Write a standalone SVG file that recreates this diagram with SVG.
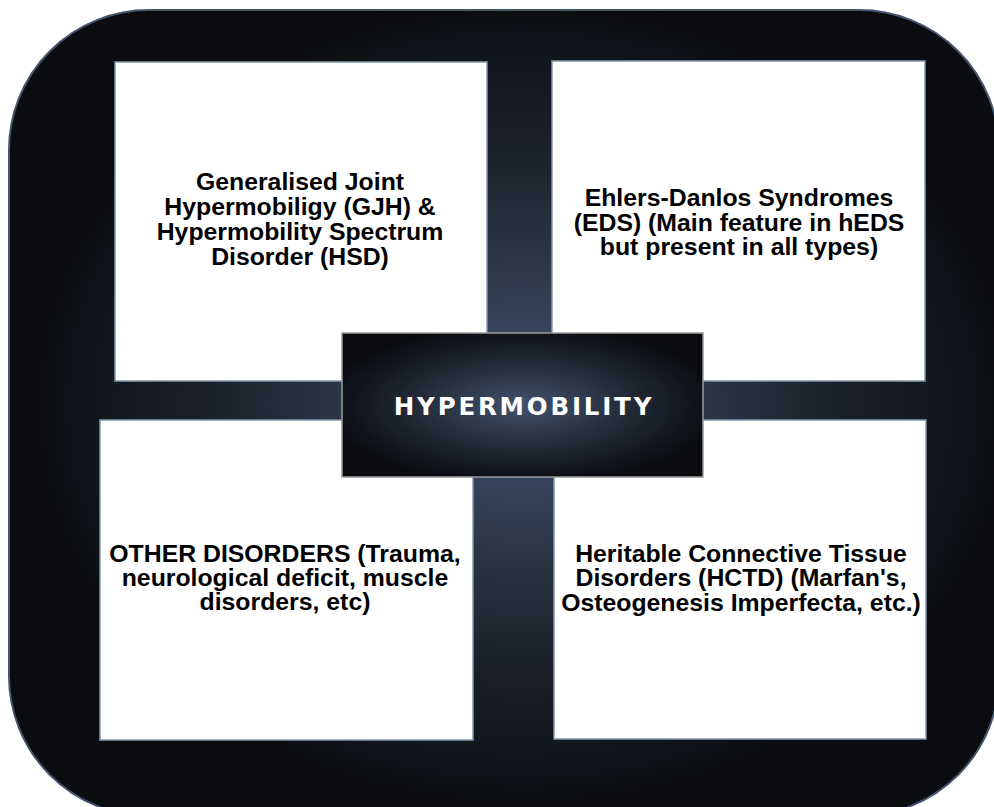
<svg xmlns="http://www.w3.org/2000/svg" width="994" height="807" viewBox="0 0 994 807">
<defs>
<radialGradient id="bg" gradientUnits="userSpaceOnUse" cx="0" cy="0" r="500" gradientTransform="translate(522 405) scale(1 0.82)">
<stop offset="0" stop-color="#44546e"/>
<stop offset="0.2" stop-color="#36435a"/>
<stop offset="0.38" stop-color="#2a3444"/>
<stop offset="0.65" stop-color="#1a1f28"/>
<stop offset="0.86" stop-color="#11151c"/>
<stop offset="0.96" stop-color="#0b0d11"/>
<stop offset="1" stop-color="#0a0c10"/>
</radialGradient>
<radialGradient id="cg" cx="0.5" cy="0.5" r="0.55">
<stop offset="0" stop-color="#42526c"/>
<stop offset="0.5" stop-color="#252d3b"/>
<stop offset="0.82" stop-color="#13171e"/>
<stop offset="1" stop-color="#0a0c10"/>
</radialGradient>
<style>
.box{fill:#ffffff;stroke:#8496ad;stroke-width:1.5}
.lbl{font-family:"Liberation Sans",Arial,sans-serif;font-weight:bold;font-size:24.8px;fill:#000000;text-anchor:middle}
.ctr{font-family:"DejaVu Sans",Verdana,sans-serif;font-weight:bold;font-size:24.5px;fill:#ffffff;text-anchor:middle;letter-spacing:2.8px}
</style>
</defs>
<rect id="frame" x="9" y="10" width="990" height="806" rx="140" ry="140" fill="url(#bg)" stroke="#46566c" stroke-width="2"/>
<g id="connectors"></g>
<g id="node-gjh">
<rect class="box" x="115" y="62" width="372" height="319"/>
<text class="lbl" x="300" y="190">Generalised Joint</text>
<text class="lbl" x="300" y="215">Hypermobiligy (GJH) &amp;</text>
<text class="lbl" x="300" y="240">Hypermobility Spectrum</text>
<text class="lbl" x="300" y="265">Disorder (HSD)</text>
</g>
<g id="node-eds">
<rect class="box" x="552" y="61" width="373" height="320"/>
<text class="lbl" x="739" y="206">Ehlers-Danlos Syndromes</text>
<text class="lbl" x="739" y="231">(EDS) (Main feature in hEDS</text>
<text class="lbl" x="739" y="255">but present in all types)</text>
</g>
<g id="node-other">
<rect class="box" x="100" y="420" width="373" height="320"/>
<text class="lbl" x="285" y="562">OTHER DISORDERS (Trauma,</text>
<text class="lbl" x="285" y="586">neurological deficit, muscle</text>
<text class="lbl" x="285" y="610">disorders, etc)</text>
</g>
<g id="node-hctd">
<rect class="box" x="554" y="420" width="372" height="319"/>
<text class="lbl" x="741" y="562">Heritable Connective Tissue</text>
<text class="lbl" x="741" y="586">Disorders (HCTD) (Marfan's,</text>
<text class="lbl" x="741" y="611">Osteogenesis Imperfecta, etc.)</text>
</g>
<g id="node-center">
<rect x="342" y="333" width="361" height="144" fill="url(#cg)" stroke="#9a9a9a" stroke-width="1.5"/>
<text class="ctr" x="524" y="415">HYPERMOBILITY</text>
</g>
</svg>
